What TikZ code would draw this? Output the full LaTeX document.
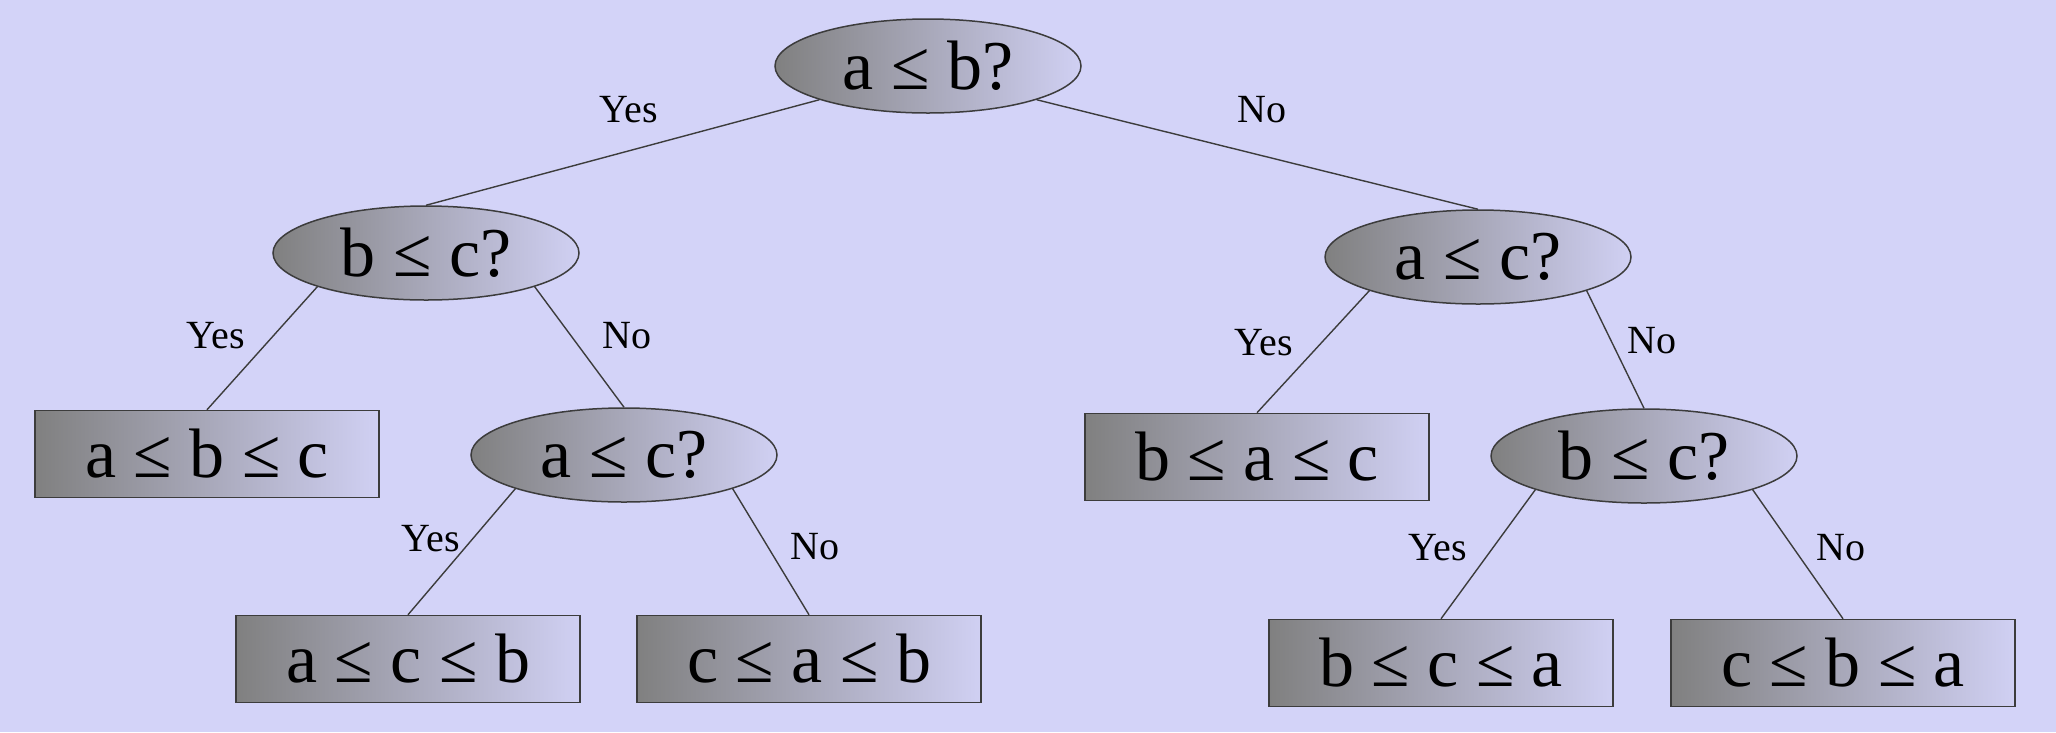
\documentclass[tikz,border=0pt]{standalone}
\usepackage{fontspec}
\setmainfont{Liberation Serif}
\usetikzlibrary{shapes.geometric}
\definecolor{bg}{RGB}{211,211,248}
\definecolor{shL}{RGB}{128,128,128}
\definecolor{shR}{RGB}{208,208,243}
\definecolor{edgec}{RGB}{60,60,60}
\tikzset{
  q/.style={ellipse, draw=edgec, line width=1.5pt, left color=shL, right color=shR,
    minimum width=306pt, minimum height=94pt, inner sep=0pt,
    font=\fontsize{70}{80}\selectfont},
  leaf/.style={rectangle, draw=edgec, line width=1.5pt, left color=shL, right color=shR,
    minimum width=344pt, minimum height=87pt, inner sep=0pt,
    font=\fontsize{70}{80}\selectfont},
  lbl/.style={font=\fontsize{40}{48}\selectfont, text=black, inner sep=0pt},
  conn/.style={draw=edgec, line width=1.4pt}
}
\begin{document}
\begin{tikzpicture}[x=1pt,y=-1pt]
\fill[bg] (0,0) rectangle (2056,732);
\useasboundingbox (0,0) rectangle (2056,732);
% decision nodes
\node[q] (root) at (928,66) {a ≤ b?};
\node[q] (L) at (426,253) {b ≤ c?};
\node[q] (R) at (1478,257) {a ≤ c?};
\node[q] (LR) at (624,455) {a ≤ c?};
\node[q] (RR) at (1644,456) {b ≤ c?};
% leaves
\node[leaf] (LL) at (207,454) {a ≤ b ≤ c};
\node[leaf] (RL) at (1257,457) {b ≤ a ≤ c};
\node[leaf] (LRL) at (408,659) {a ≤ c ≤ b};
\node[leaf] (LRR) at (809,659) {c ≤ a ≤ b};
\node[leaf] (RRL) at (1441,663) {b ≤ c ≤ a};
\node[leaf] (RRR) at (1843,663) {c ≤ b ≤ a};
% connectors
\draw[conn] (root.south west) -- (L.north);
\draw[conn] (root.south east) -- (R.north);
\draw[conn] (L.south west) -- (LL.north);
\draw[conn] (L.south east) -- (LR.north);
\draw[conn] (R.south west) -- (RL.north);
\draw[conn] (R.south east) -- (RR.north);
\draw[conn] (LR.south west) -- (LRL.north);
\draw[conn] (LR.south east) -- (LRR.north);
\draw[conn] (RR.south west) -- (RRL.north);
\draw[conn] (RR.south east) -- (RRR.north);
% labels
\node[lbl] (y0) at (629,110) {Yes};
\node[lbl] (n0) at (1262,110) {No};
\node[lbl] (y1) at (216,336) {Yes};
\node[lbl] (n1) at (627,336) {No};
\node[lbl] (y2) at (1264,343) {Yes};
\node[lbl] (n2) at (1652,341) {No};
\node[lbl] (y3) at (431,539) {Yes};
\node[lbl] (n3) at (815,547) {No};
\node[lbl] (y4) at (1438,548) {Yes};
\node[lbl] (n4) at (1841,548) {No};
\end{tikzpicture}
\end{document}
